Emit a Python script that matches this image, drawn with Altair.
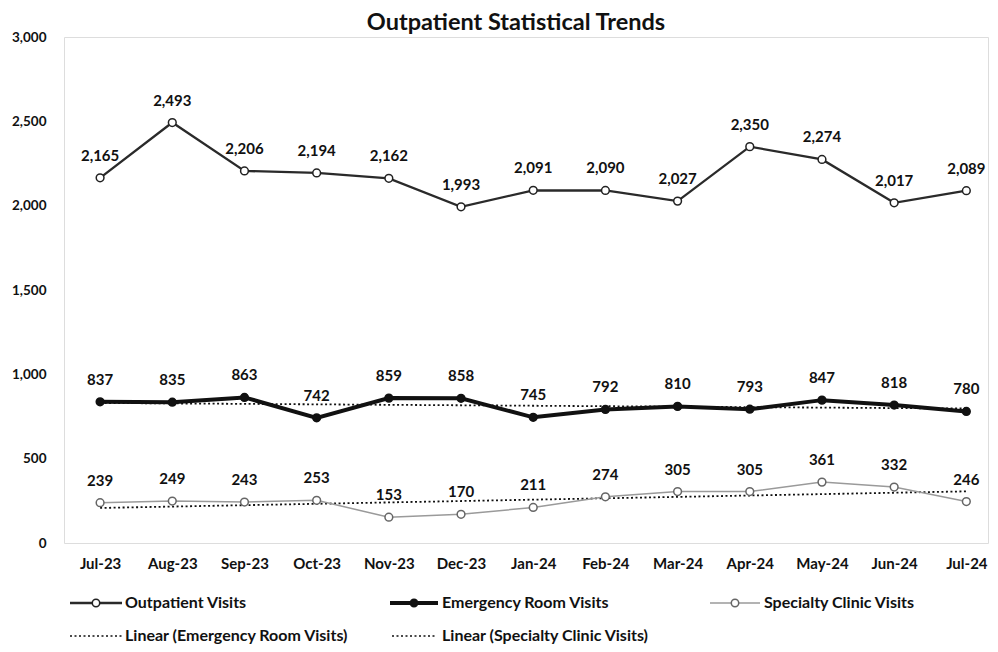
import altair as alt
import pandas as pd

months = ["Jul-23", "Aug-23", "Sep-23", "Oct-23", "Nov-23", "Dec-23", "Jan-24",
          "Feb-24", "Mar-24", "Apr-24", "May-24", "Jun-24", "Jul-24"]
outpatient = [2165, 2493, 2206, 2194, 2162, 1993, 2091, 2090, 2027, 2350, 2274, 2017, 2089]
emergency = [837, 835, 863, 742, 859, 858, 745, 792, 810, 793, 847, 818, 780]
specialty = [239, 249, 243, 253, 153, 170, 211, 274, 305, 305, 361, 332, 246]
series_names = ["Outpatient Visits", "Emergency Room Visits", "Specialty Clinic Visits"]
trend_names = ["Linear (Emergency Room Visits)", "Linear (Specialty Clinic Visits)"]
title = "Outpatient Statistical Trends"

rows = []
for name, vals in zip(series_names, [outpatient, emergency, specialty]):
    for i, (m, v) in enumerate(zip(months, vals)):
        rows.append({"idx": i, "month": m, "series": name, "value": v})
df = pd.DataFrame(rows)

FONT = "Lato"
label_expr = "[" + ",".join("'%s'" % m for m in months) + "][datum.value]"

x_enc = alt.X("idx:Q", scale=alt.Scale(domain=[-0.5, 12.3], nice=False, zero=False),
              axis=alt.Axis(values=list(range(len(months))), labelExpr=label_expr, title=None,
                            grid=False, domain=False, ticks=False, labelPadding=13,
                            labelFontSize=15, labelFontWeight="bold", labelColor="#111",
                            labelFont=FONT))
y_enc = alt.Y("value:Q", scale=alt.Scale(domain=[0, 3000], nice=False),
              axis=alt.Axis(values=list(range(0, 3001, 500)), format=",.0f", title=None,
                            grid=False, domain=False, ticks=False, labelPadding=18,
                            labelFontSize=13.5, labelFontWeight="bold", labelColor="#111",
                            labelFont=FONT))

base = alt.Chart(df).encode(x=x_enc, y=y_enc)

styles = {
    "Outpatient Visits": dict(color="#2a2a2a", width=2.3, fill="white", pstroke="#222"),
    "Emergency Room Visits": dict(color="#111111", width=4, fill="#111111", pstroke="#111"),
    "Specialty Clinic Visits": dict(color="#9a9a9a", width=1.5, fill="white", pstroke="#666"),
}

layers = []
# trend lines
for name in ["Emergency Room Visits", "Specialty Clinic Visits"]:
    layers.append(
        base.transform_filter(alt.datum.series == name)
        .transform_regression("idx", "value")
        .mark_line(color="#111", strokeWidth=1.8, strokeDash=[2, 2.5])
    )
for name in series_names:
    s = styles[name]
    sub = base.transform_filter(alt.datum.series == name)
    layers.append(sub.mark_line(color=s["color"], strokeWidth=s["width"]))
    layers.append(sub.mark_point(shape="circle", filled=True, size=60, fill=s["fill"],
                                 stroke=s["pstroke"], strokeWidth=1.5, opacity=1))
    layers.append(sub.mark_text(dy=-22, fontSize=15, fontWeight="bold", color="#111",
                                font=FONT).encode(text=alt.Text("value:Q", format=",.0f")))

# title as a text mark (position in plot pixels)
layers.append(alt.Chart(pd.DataFrame({"t": [title]})).mark_text(
    align="center", baseline="middle", fontSize=23.5, fontWeight="bold", color="#111",
    font=FONT).encode(x=alt.value(452), y=alt.value(-14), text="t:N"))

# custom legend (positions in plot pixels)
def legend_text(label, x, y):
    return alt.Chart(pd.DataFrame({"t": [label]})).mark_text(
        align="left", baseline="middle", fontSize=16, fontWeight="bold", color="#111",
        font=FONT).encode(x=alt.value(x), y=alt.value(y), text="t:N")

def legend_line(x1, x2, y, color, width, dash=None):
    kw = dict(color=color, strokeWidth=width)
    if dash:
        kw["strokeDash"] = dash
    return alt.Chart(pd.DataFrame({"a": [0]})).mark_rule(**kw).encode(
        x=alt.value(x1), x2=alt.value(x2), y=alt.value(y))

def legend_point(x, y, fill, stroke):
    return alt.Chart(pd.DataFrame({"a": [0]})).mark_point(
        shape="circle", filled=True, size=55, fill=fill, stroke=stroke, strokeWidth=1.5,
        opacity=1).encode(x=alt.value(x), y=alt.value(y))

r1, r2 = 566, 599
entries = [(series_names[0], 6, 58, 61), (series_names[1], 326, 374, 378),
           (series_names[2], 646, 696, 700)]
for name, a, b, tx in entries:
    s = styles[name]
    layers.append(legend_line(a, b, r1, s["color"], s["width"]))
    layers.append(legend_point((a + b) / 2, r1, s["fill"], s["pstroke"]))
    layers.append(legend_text(name, tx, r1))
layers.append(legend_line(6, 58, r2, "#111", 1.5, [2, 2.5]))
layers.append(legend_text(trend_names[0], 61, r2))
layers.append(legend_line(328, 373, r2, "#111", 1.5, [2, 2.5]))
layers.append(legend_text(trend_names[1], 378, r2))

chart = alt.layer(*layers).properties(
    width=924, height=506,
    padding={"left": 56, "top": 29, "right": 2, "bottom": 112},
    autosize="none",
).configure_view(stroke=None).configure(background="white")

chart.save("out.html", embed_options={"renderer": "svg", "actions": False})
